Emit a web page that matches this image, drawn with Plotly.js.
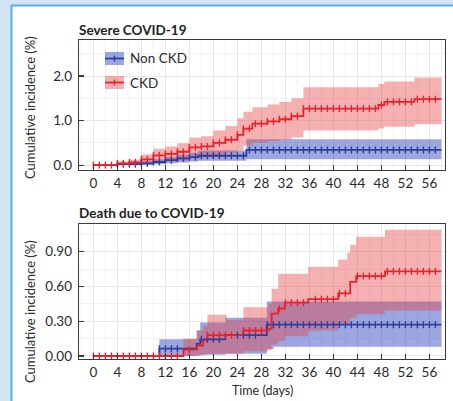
<!DOCTYPE html>
<html><head><meta charset="utf-8">
<script src="https://cdn.plot.ly/plotly-3.0.1.min.js"></script>
<style>html,body{margin:0;padding:0;background:#d3e5f5;} #chart{width:453px;height:401px;}</style>
</head><body><div id="chart"></div>
<script>
// ---------- Severe COVID-19 ----------
const sevCkdT   = [0, 4, 6, 8, 10, 12, 14, 16, 18, 20, 22, 24, 25, 26.5, 29, 31, 33, 35, 47.5, 48.5, 53.5, 58];
const sevCkdEst = [0, 0.04, 0.06, 0.13, 0.22, 0.25, 0.30, 0.40, 0.42, 0.50, 0.57, 0.68, 0.82, 0.93, 0.98, 1.03, 1.10, 1.27, 1.35, 1.42, 1.48, 1.48];
const sevCkdLo  = [0, 0, 0.01, 0.04, 0.07, 0.08, 0.10, 0.15, 0.17, 0.22, 0.27, 0.33, 0.44, 0.50, 0.54, 0.57, 0.62, 0.78, 0.82, 0.86, 0.92, 0.92];
const sevCkdHi  = [0, 0.08, 0.12, 0.24, 0.37, 0.42, 0.49, 0.62, 0.65, 0.78, 0.88, 1.05, 1.20, 1.30, 1.36, 1.42, 1.50, 1.75, 1.82, 1.88, 1.97, 1.97];

const sevNonT   = [0, 4, 8, 10, 12, 14, 16, 17.5, 25.5, 58];
const sevNonEst = [0, 0.02, 0.04, 0.07, 0.11, 0.15, 0.18, 0.21, 0.34, 0.34];
const sevNonLo  = [0, 0, 0, 0.02, 0.04, 0.06, 0.08, 0.10, 0.13, 0.13];
const sevNonHi  = [0, 0.05, 0.09, 0.13, 0.18, 0.23, 0.28, 0.33, 0.58, 0.58];

const sevCkdCens = [0,1,2,3,4,5,6,7,8,9,10,11,12,13,14,15,16,17,18,19,20,21,22,23,24,25,26,27,28,29,30,31,32,33,34,35,36,37,38,39,40,41,42,43,44,45,46,47,48,49,50,51,52,53,54,55,56,57];
const sevNonCens = [4,5,6,7,8,9,10,11,12,13,14,15,16,17,18,19,20,21,22,23,24,25,26,27,28,29,30,31,32,33,34,35,36,37,38,39,40,41,42,43,44,45,46,47,48,49,50,51,52,53,54,55,56,57];

// ---------- Death due to COVID-19 ----------
const dthCkdT   = [0, 15, 17.3, 18.3, 19, 22.2, 25, 29.2, 29.7, 30.8, 31.9, 35.8, 40.8, 42.3, 42.8, 43.8, 48.6, 58];
const dthCkdEst = [0, 0.055, 0.09, 0.135, 0.18, 0.18, 0.22, 0.235, 0.365, 0.41, 0.46, 0.49, 0.54, 0.54, 0.64, 0.69, 0.73, 0.73];
const dthCkdLo  = [0, 0, 0.005, 0.01, 0.02, 0.02, 0.04, 0.05, 0.10, 0.13, 0.17, 0.22, 0.28, 0.28, 0.33, 0.36, 0.39, 0.39];
const dthCkdHi  = [0.005, 0.15, 0.22, 0.26, 0.355, 0.31, 0.42, 0.45, 0.58, 0.71, 0.71, 0.77, 0.83, 0.89, 0.96, 1.03, 1.09, 1.09];

const dthNonT   = [0, 11, 17.2, 17.8, 22, 28.9, 30, 58];
const dthNonEst = [0, 0.063, 0.105, 0.144, 0.18, 0.27, 0.27, 0.27];
const dthNonLo  = [0, 0, 0.005, 0.01, 0.02, 0.06, 0.08, 0.08];
const dthNonHi  = [0, 0.145, 0.22, 0.29, 0.33, 0.47, 0.47, 0.47];

const dthCkdCens = [0,1,2,3,4,5,6,7,8,9,10,11,12,13,14,16,19,20,21,22,23,25,26,27,28,31,32,33,34,35,37,38,39,40,41,42,44,45,46,47,48,49,50,51,52,53,54,55,56,57];
const dthNonCens = [11,12,13,14,18,19,20,21,24,25,26,27,29,30,31,32,33,34,35,36,37,38,39,40,41,42,43,44,45,46,47,48,49,50,51,52,53,54,55,56,57];

const xTicks = [0,4,8,12,16,20,24,28,32,36,40,44,48,52,56];
const seriesNames = ['Non CKD', 'CKD'];

const W = 453, H = 401;
const px = x => x / W;
const py = y => 1 - y / H;
function stepAt(ts, vs, t){ let v = vs[0]; for (let i = 0; i < ts.length; i++){ if (ts[i] <= t) v = vs[i]; else break; } return v; }

const RED = '#e8232b', BLUE = '#2c3f9f';
const REDF = 'rgba(232,70,70,0.42)', BLUEF = 'rgba(45,65,190,0.47)';

function band(t, lo, hi, color, xa, ya){
  return [
    {x:t, y:lo, mode:'lines', line:{width:0, shape:'hv'}, hoverinfo:'skip', showlegend:false, xaxis:xa, yaxis:ya},
    {x:t, y:hi, mode:'lines', line:{width:0, shape:'hv'}, fill:'tonexty', fillcolor:color, hoverinfo:'skip', showlegend:false, xaxis:xa, yaxis:ya}
  ];
}
function curve(t, est, color, xa, ya){
  return {x:t, y:est, mode:'lines', line:{color:color, width:1.8, shape:'hv'}, showlegend:false, xaxis:xa, yaxis:ya};
}
function cens(t, est, days, color, xa, ya){
  return {x:days, y:days.map(d => stepAt(t, est, d)), mode:'markers',
    marker:{symbol:'line-ns', size:5, color:color, line:{color:color, width:1.4}}, showlegend:false, xaxis:xa, yaxis:ya};
}

const data = [].concat(
  band(sevNonT, sevNonLo, sevNonHi, BLUEF, 'x', 'y'),
  band(sevCkdT, sevCkdLo, sevCkdHi, REDF, 'x', 'y'),
  [curve(sevNonT, sevNonEst, BLUE, 'x', 'y'), curve(sevCkdT, sevCkdEst, RED, 'x', 'y'),
   cens(sevNonT, sevNonEst, sevNonCens, BLUE, 'x', 'y'), cens(sevCkdT, sevCkdEst, sevCkdCens, RED, 'x', 'y')],
  band(dthNonT, dthNonLo, dthNonHi, BLUEF, 'x2', 'y2'),
  band(dthCkdT, dthCkdLo, dthCkdHi, REDF, 'x2', 'y2'),
  [curve(dthNonT, dthNonEst, BLUE, 'x2', 'y2'), curve(dthCkdT, dthCkdEst, RED, 'x2', 'y2'),
   cens(dthNonT, dthNonEst, dthNonCens, BLUE, 'x2', 'y2'), cens(dthCkdT, dthCkdEst, dthCkdCens, RED, 'x2', 'y2')]
);

const AX = '#3a3a3a';
const FONT = 'Lato, "Open Sans", sans-serif';
function xAxis(anchor){
  return {domain:[px(79), px(445)], range:[-2.4, 58.6], anchor:anchor, tickvals:xTicks,
    showline:true, mirror:true, linecolor:AX, linewidth:1.3, ticks:'inside', ticklen:5, tickwidth:1.2, tickcolor:AX,
    showgrid:true, gridcolor:'#e8e8e8', gridwidth:1, zeroline:false, ticklabelstandoff:0,
    minor:{dtick:2, tick0:0, showgrid:true, gridcolor:'#f3f3f3', ticks:''},
    tickfont:{size:13.5, color:'#2b2b2b'}};
}
function yAxis(anchor, dom, rng, vals, fmt, minorDt){
  return {domain:dom, range:rng, anchor:anchor, tickvals:vals, tickformat:fmt,
    showline:true, mirror:true, linecolor:AX, linewidth:1.3, ticks:'inside', ticklen:5, tickwidth:1.2, tickcolor:AX,
    showgrid:true, gridcolor:'#e8e8e8', gridwidth:1, zeroline:false, ticklabelstandoff:3,
    minor:{dtick:minorDt, tick0:0, showgrid:true, gridcolor:'#f3f3f3', ticks:''},
    tickfont:{size:13.5, color:'#2b2b2b'}};
}

const ann = (text, x, y, opts) => Object.assign({text:text, x:px(x), y:py(y), xref:'paper', yref:'paper', showarrow:false,
  font:{family:FONT, size:12.5, color:'#2b2b2b'}}, opts || {});

const legendRows = [{name:seriesNames[0], y:58.5, fill:BLUEF, col:BLUE}, {name:seriesNames[1], y:82.5, fill:REDF, col:RED}];
const shapes = [
  {type:'rect', xref:'paper', yref:'paper', x0:px(11.5), x1:1.1, y0:-0.1, y1:py(5.5), fillcolor:'#ffffff', line:{color:'#55aee6', width:2}, layer:'below'}
];
const annotations = [
  ann('<b>Severe COVID-19</b>', 77, 30, {xanchor:'left', yanchor:'middle', font:{family:FONT, size:13.5, color:'#222'}}),
  ann('<b>Death due to COVID-19</b>', 77, 213, {xanchor:'left', yanchor:'middle', font:{family:FONT, size:13.5, color:'#222'}}),
  ann('Cumulative incidence (%)', 30, 108, {textangle:-90, xanchor:'center', yanchor:'middle', font:{family:FONT, size:13, color:'#2b2b2b'}}),
  ann('Cumulative incidence (%)', 30, 312, {textangle:-90, xanchor:'center', yanchor:'middle', font:{family:FONT, size:13, color:'#2b2b2b'}}),
  ann('Time (days)', 262, 390, {xanchor:'center', yanchor:'middle', font:{family:FONT, size:12.5, color:'#2b2b2b'}})
];
legendRows.forEach(r => {
  shapes.push({type:'rect', xref:'paper', yref:'paper', x0:px(105), x1:px(124), y0:py(r.y+6.5), y1:py(r.y-6.5), fillcolor:r.fill, line:{width:0}});
  shapes.push({type:'line', xref:'paper', yref:'paper', x0:px(105), x1:px(124), y0:py(r.y), y1:py(r.y), line:{color:r.col, width:1.8}});
  shapes.push({type:'line', xref:'paper', yref:'paper', x0:px(114.5), x1:px(114.5), y0:py(r.y+3), y1:py(r.y-3), line:{color:r.col, width:1.4}});
  annotations.push(ann(r.name, 128, r.y, {xanchor:'left', yanchor:'middle', font:{family:FONT, size:13.5, color:'#2b2b2b'}}));
});

const layout = {
  width:W, height:H, margin:{l:0, r:0, t:0, b:0},
  paper_bgcolor:'#d3e5f5', plot_bgcolor:'#ffffff',
  font:{family:FONT, size:13, color:'#2b2b2b'},
  showlegend:false,
  xaxis: xAxis('y'),
  yaxis: yAxis('x', [py(170), py(40)], [-0.11, 2.81], [0, 1, 2], '.1f', 0.5),
  xaxis2: xAxis('y2'),
  yaxis2: yAxis('x2', [py(359), py(224)], [-0.026, 1.139], [0, 0.3, 0.6, 0.9], '.2f', 0.15),
  shapes: shapes,
  annotations: annotations
};

Plotly.newPlot('chart', data, layout, {displayModeBar:false, staticPlot:true});
</script></body></html>
